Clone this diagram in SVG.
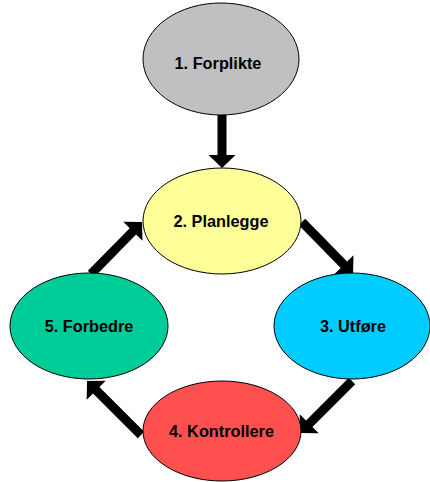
<svg xmlns="http://www.w3.org/2000/svg" width="430" height="482" viewBox="0 0 430 482">
<style>
.n ellipse{stroke:#000;stroke-width:1}
.n text{font-family:"Liberation Sans",Arial,sans-serif;font-weight:bold;font-size:16.3px;text-anchor:middle;fill:#000}
#connectors polygon{fill:#000}
</style>
<rect width="430" height="482" fill="#fff"/>
<g id="connectors">
<polygon points="226.5,112 226.5,155 235.5,155 222,168 208.5,155 217.5,155 217.5,112"/>
<polygon points="298.8,225.2 340.7,267.9 334.3,274.2 353,274 353.5,255.3 347.1,261.6 305.2,218.8"/>
<polygon points="348.8,377.8 306,420.6 299.7,414.3 300,433 318.7,433.3 312.4,427 355.2,384.2"/>
<polygon points="144.2,431.8 99.4,387 105.7,380.7 87,381 86.7,399.7 93,393.4 137.8,438.2"/>
<polygon points="94.2,277.2 136.1,234.5 142.5,240.75 142,222 123.3,221.85 129.7,228.15 87.8,270.85"/>
</g>
<g id="n1" class="n"><ellipse cx="221" cy="59" rx="78" ry="56" fill="#C0C0C0"/><text x="218" y="69">1. Forplikte</text></g>
<g id="n2" class="n"><ellipse cx="222" cy="221" rx="79" ry="53" fill="#FFFF99"/><text x="221" y="227">2. Planlegge</text></g>
<g id="n3" class="n"><ellipse cx="352" cy="326" rx="78" ry="53" fill="#00CCFF"/><text x="353" y="332">3. Utføre</text></g>
<g id="n4" class="n"><ellipse cx="222" cy="431" rx="79" ry="50" fill="#FF5050"/><text x="221.5" y="437">4. Kontrollere</text></g>
<g id="n5" class="n"><ellipse cx="89" cy="326" rx="79" ry="53" fill="#00CC99"/><text x="89" y="332">5. Forbedre</text></g>
</svg>
